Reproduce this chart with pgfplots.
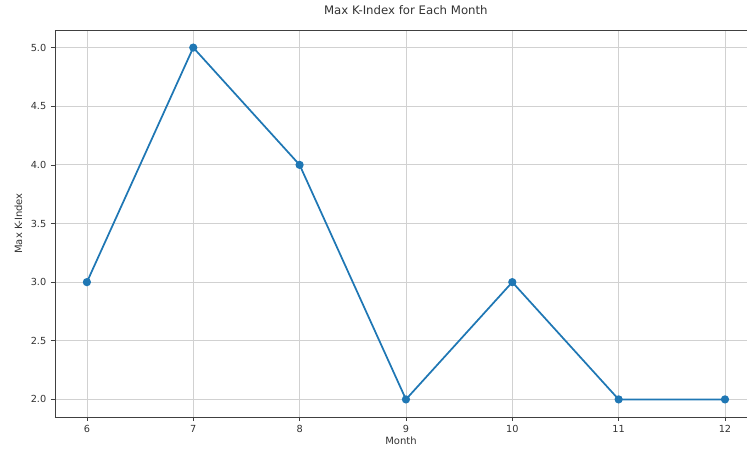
\documentclass[border=0pt]{standalone}
\usepackage{pgfplots}
\pgfplotsset{compat=1.18}
\usepackage{fontspec}
\setmainfont{DejaVu Sans}
\definecolor{mplblue}{HTML}{1F77B4}
\definecolor{txtgray}{HTML}{333333}
\begin{document}
\begin{tikzpicture}
\path[use as bounding box] (-41.25pt,-24pt) rectangle (519pt,312.75pt);
\begin{axis}[
  at={(0,0)}, anchor=south west,
  scale only axis,
  width=519pt, height=290.25pt,
  xmin=5.7, xmax=12.207,
  ymin=1.85, ymax=5.15,
  xtick={6,7,8,9,10,11,12},
  ytick={2.0,2.5,3.0,3.5,4.0,4.5,5.0},
  yticklabel style={/pgf/number format/.cd, fixed, fixed zerofill, precision=1},
  /pgf/number format/assume math mode=true,
  axis lines*=left,
  axis line style={black!75, line width=0.6pt},
  tick align=outside,
  major tick length=3pt,
  tick style={black!75, line width=0.5pt},
  grid=major,
  grid style={black!18, line width=0.6pt},
  ticklabel style={font=\fontsize{7.3}{8}\selectfont, text=txtgray},
  xlabel={Month},
  ylabel={Max K-Index},
  label style={font=\fontsize{7.5}{9}\selectfont, text=txtgray},
  xlabel style={at={(axis description cs:0.5,-0.062)}, anchor=center},
  ylabel style={at={(axis description cs:-0.053,0.5)}, anchor=center},
  title={Max K-Index for Each Month},
  title style={font=\fontsize{8.8}{10}\selectfont, text=txtgray, at={(axis description cs:0.507,1.031)}, anchor=center},
  clip=false,
]
\addplot[color=mplblue, line width=1.3pt, mark=*, mark size=2.4pt, mark options={fill=mplblue, draw=mplblue}]
  coordinates {(6,3) (7,5) (8,4) (9,2) (10,3) (11,2) (12,2)};
\draw[black!75, line width=0.6pt] (rel axis cs:0,1) -- (rel axis cs:1,1);
\end{axis}
\end{tikzpicture}
\end{document}
